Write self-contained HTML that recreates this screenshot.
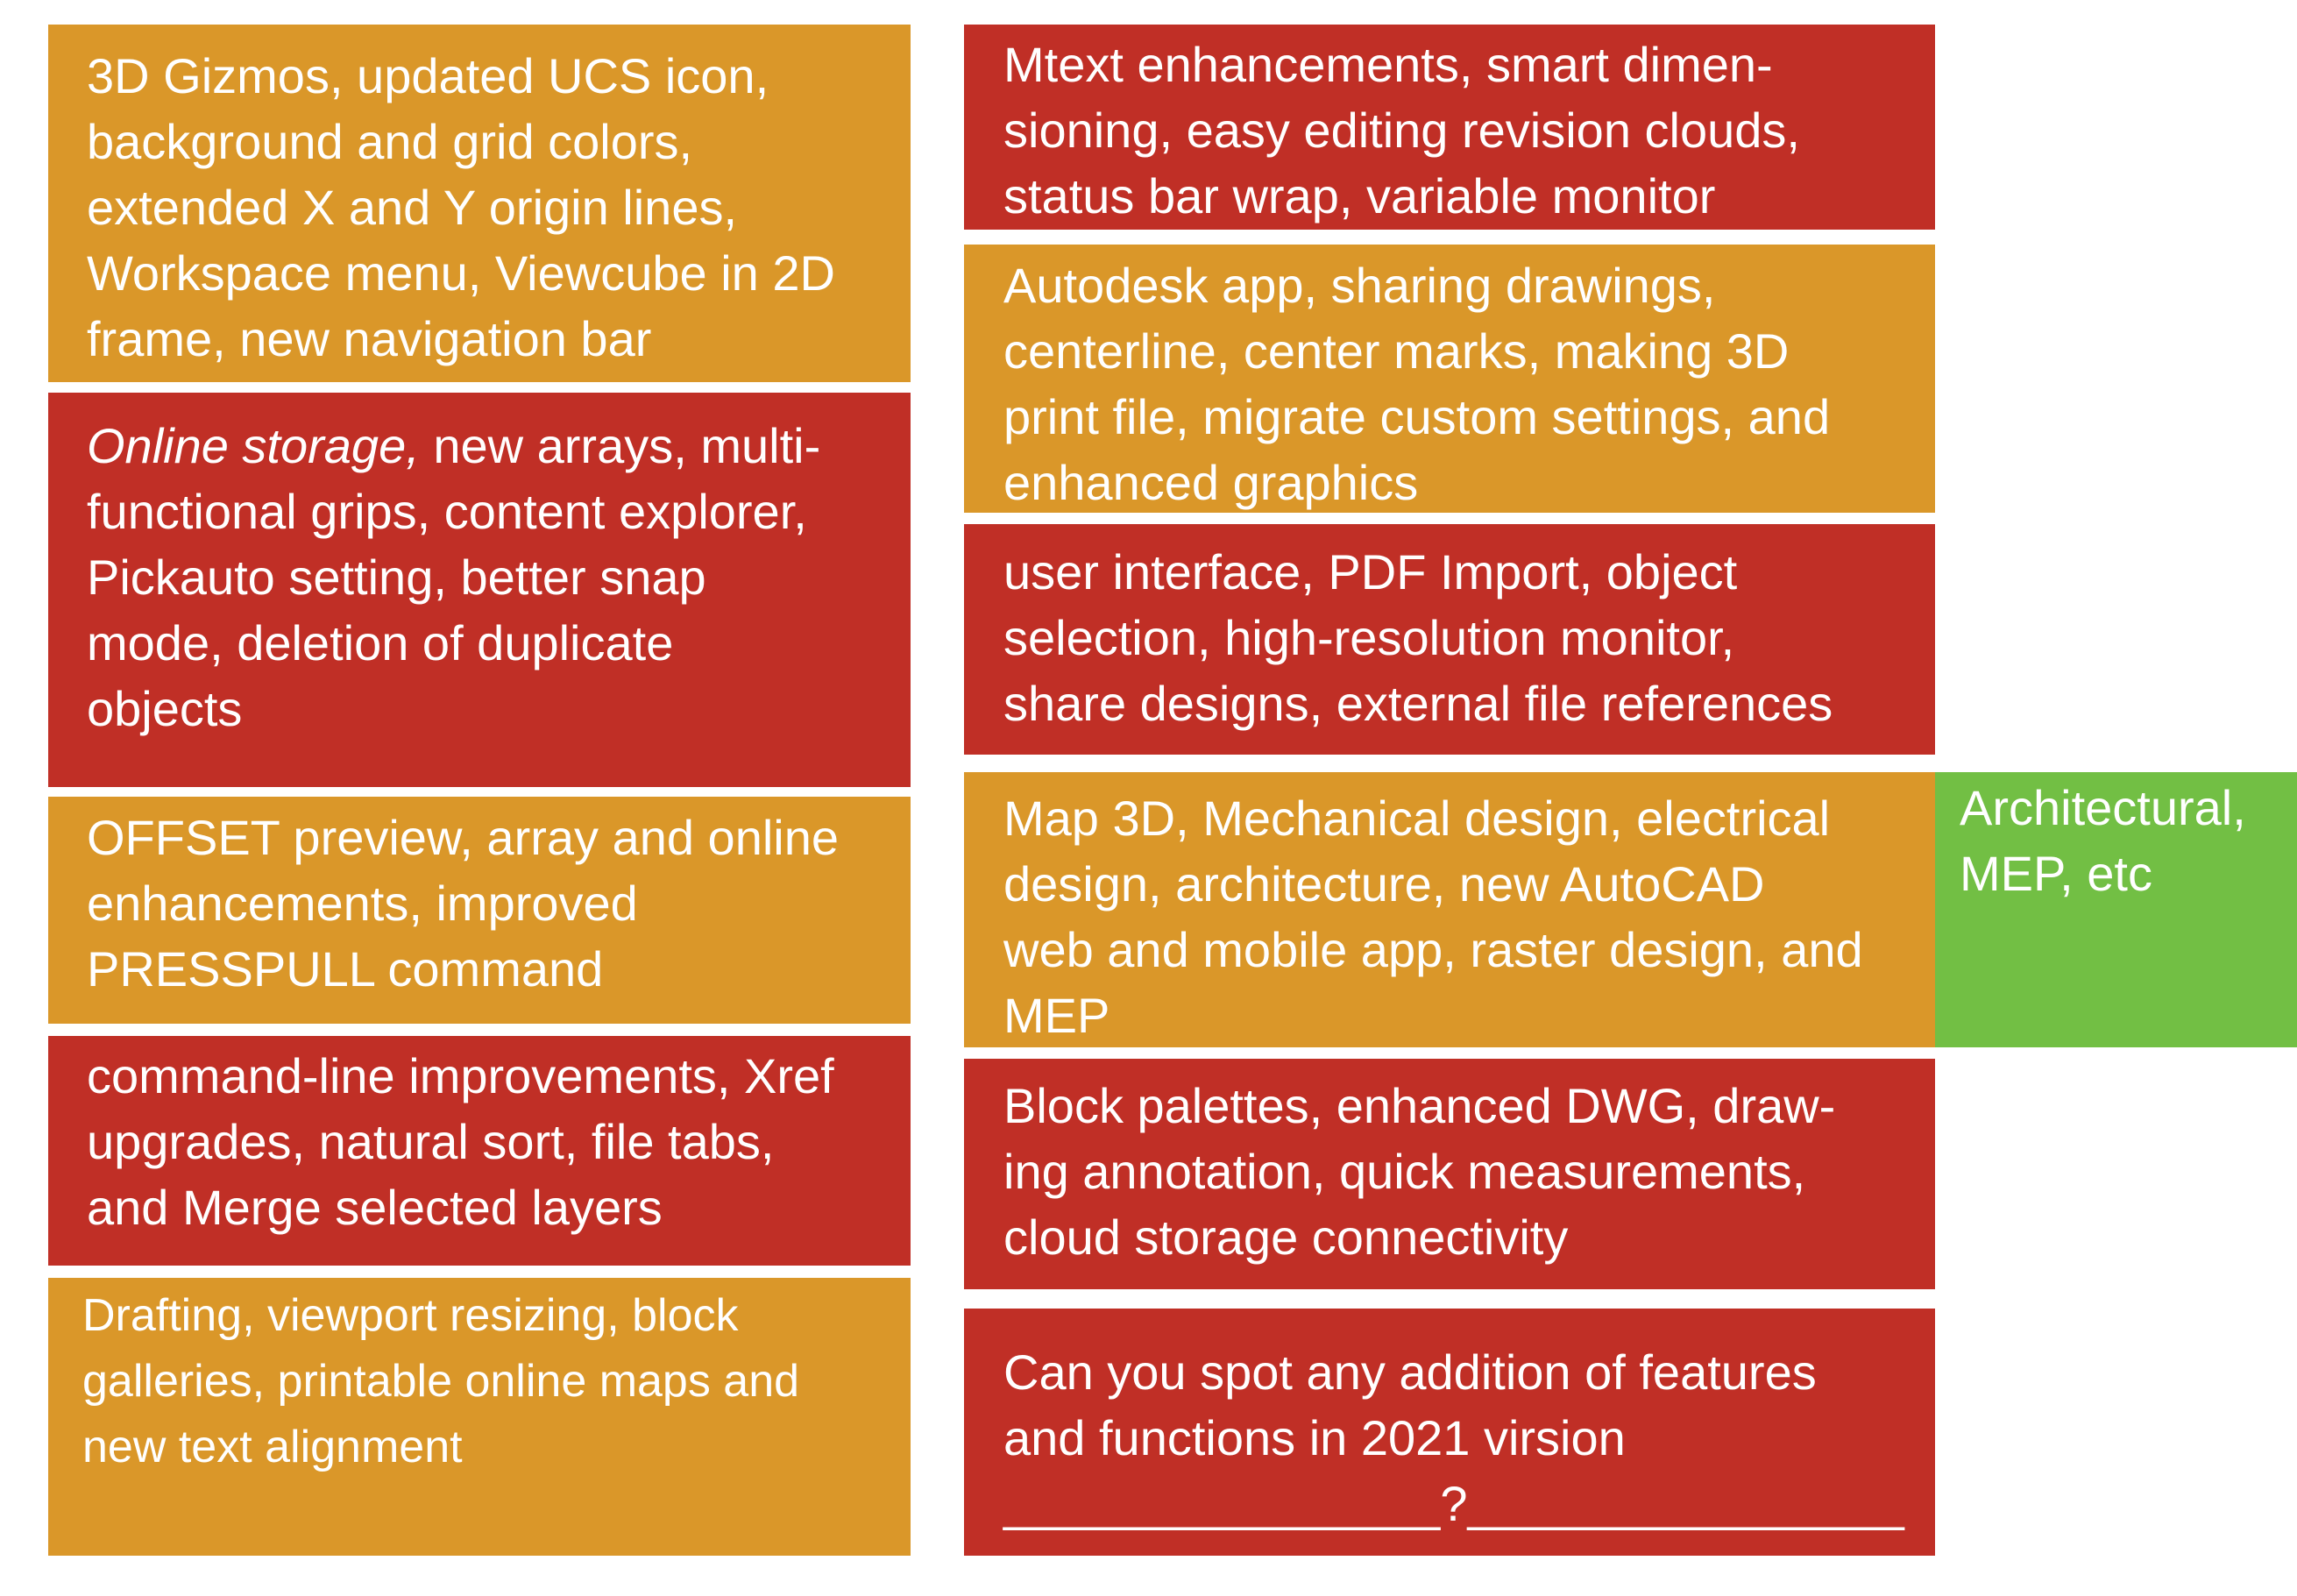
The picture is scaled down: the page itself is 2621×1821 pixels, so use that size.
<!DOCTYPE html>
<html><head><meta charset="utf-8"><style>
body{margin:0;width:2621px;height:1821px;background:#fff;position:relative;overflow:hidden;font-family:"Liberation Sans",sans-serif;}
.b{position:absolute;box-sizing:border-box;color:#fff;font-size:56px;line-height:75px;white-space:nowrap;}
.o{background:#DA9729}.r{background:#C02F26}.g{background:#72BF44}
.L{left:55px;width:984px;padding-left:44px}
.R{left:1100px;width:1108px;padding-left:45px}
</style></head><body>
<div class="b o L" style="top:28px;height:408px;padding-top:21px">3D Gizmos, updated UCS icon,<br>background and grid colors,<br>extended X and Y origin lines,<br>Workspace menu, Viewcube in 2D<br>frame, new navigation bar</div>
<div class="b r L" style="top:448px;height:450px;padding-top:23px"><i>Online storage,</i> new arrays, multi-<br>functional grips, content explorer,<br>Pickauto setting, better snap<br>mode, deletion of duplicate<br>objects</div>
<div class="b o L" style="top:909px;height:259px;padding-top:9px">OFFSET preview, array and online<br>enhancements, improved<br>PRESSPULL command</div>
<div class="b r L" style="top:1182px;height:262px;padding-top:8px">command-line improvements, Xref<br>upgrades, natural sort, file tabs,<br>and Merge selected layers</div>
<div class="b o L" style="top:1458px;height:317px;padding-top:6px;padding-left:39px;font-size:52px">Drafting, viewport resizing, block<br>galleries, printable online maps and<br>new text alignment</div>
<div class="b r R" style="top:28px;height:234px;padding-top:8px">Mtext enhancements, smart dimen-<br>sioning, easy editing revision clouds,<br>status bar wrap, variable monitor</div>
<div class="b o R" style="top:279px;height:306px;padding-top:9px">Autodesk app, sharing drawings,<br>centerline, center marks, making 3D<br>print file, migrate custom settings, and<br>enhanced graphics</div>
<div class="b r R" style="top:598px;height:263px;padding-top:17px">user interface, PDF Import, object<br>selection, high-resolution monitor,<br>share designs, external file references</div>
<div class="b o R" style="top:881px;height:314px;padding-top:15px">Map 3D, Mechanical design, electrical<br>design, architecture, new AutoCAD<br>web and mobile app, raster design, and<br>MEP</div>
<div class="b g" style="left:2208px;width:413px;top:881px;height:314px;padding-top:3px;padding-left:28px">Architectural,<br>MEP, etc</div>
<div class="b r R" style="top:1208px;height:263px;padding-top:16px">Block palettes, enhanced DWG, draw-<br>ing annotation, quick measurements,<br>cloud storage connectivity</div>
<div class="b r R" style="top:1493px;height:282px;padding-top:35px">Can you spot any addition of features<br>and functions in 2021 virsion<br>________________?________________</div>
</body></html>
